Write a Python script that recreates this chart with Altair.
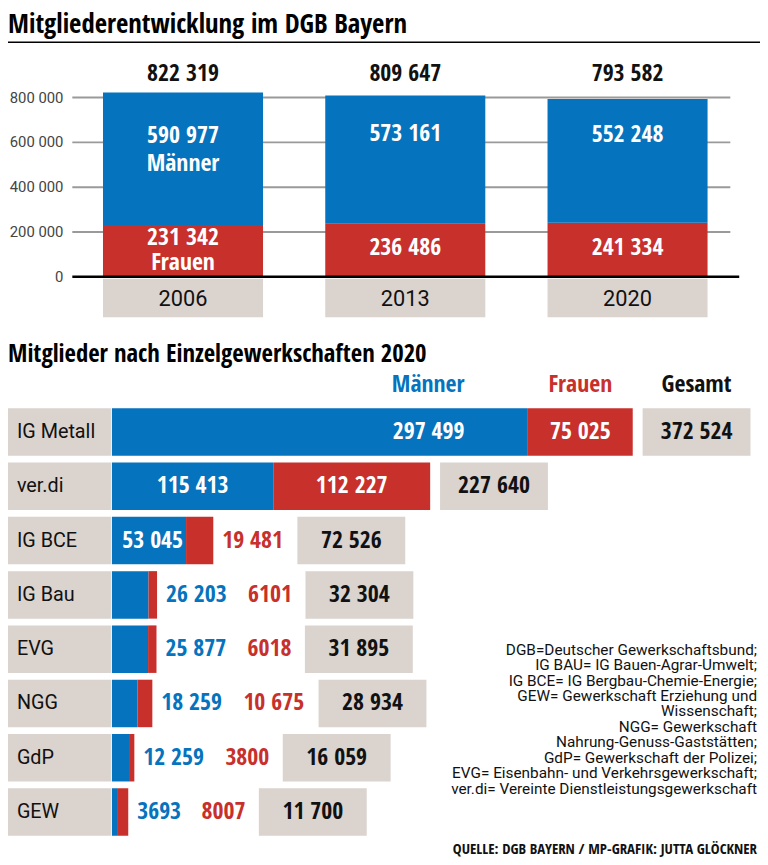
import altair as alt
import pandas as pd

# ---------------- data ----------------
years = ["2006", "2013", "2020"]
men_year = [590977, 573161, 552248]
women_year = [231342, 236486, 241334]
total_year = [822319, 809647, 793582]
y_ticks = [0, 200000, 400000, 600000, 800000]

unions = ["IG Metall", "ver.di", "IG BCE", "IG Bau", "EVG", "NGG", "GdP", "GEW"]
men_union = [297499, 115413, 53045, 26203, 25877, 18259, 12259, 3693]
women_union = [75025, 112227, 19481, 6101, 6018, 10675, 3800, 8007]
total_union = [372524, 227640, 72526, 32304, 31895, 28934, 16059, 11700]

title = "Mitgliederentwicklung im DGB Bayern"
subtitle = "Mitglieder nach Einzelgewerkschaften 2020"
header_men, header_women, header_total = "Männer", "Frauen", "Gesamt"
footnote = [
    "DGB=Deutscher Gewerkschaftsbund;",
    "IG BAU= IG Bauen-Agrar-Umwelt;",
    "IG BCE= IG Bergbau-Chemie-Energie;",
    "GEW= Gewerkschaft Erziehung und",
    "Wissenschaft;",
    "NGG= Gewerkschaft",
    "Nahrung-Genuss-Gaststätten;",
    "GdP= Gewerkschaft der Polizei;",
    "EVG= Eisenbahn- und Verkehrsgewerkschaft;",
    "ver.di= Vereinte Dienstleistungsgewerkschaft",
]
source = "QUELLE: DGB BAYERN  / MP-GRAFIK: JUTTA GLÖCKNER"

# ---------------- style ----------------
BLUE = "#0573bd"
RED = "#c8302c"
BOX = "#dad3ce"
GRID = "#9a9a9a"
FB = "Open Sans Condensed, Roboto"      # bold condensed
FR = "Roboto, Liberation Sans"          # regular
W, H = 760, 857
NUM = 24


def fmt(v):
    return str(v) if v < 10000 else f"{v:,}".replace(",", " ")


def tw(s):
    # approximate width of a bold number label (px), as laid out in the reference
    return sum(6 if c == " " else 12 for c in s)


one = lambda **kw: pd.DataFrame({k: [v] for k, v in kw.items()})

# ---------------- top chart ----------------
K_TOP = 181 / 800000
y_top = alt.Scale(domain=[0, 800000], range=[267, 86], nice=False, zero=False)
x_year = alt.Scale(type="band", domain=years, range=[96, 707], paddingInner=0.28, paddingOuter=0)

seg_rows = []
for yr, m, w in zip(years, men_year, women_year):
    seg_rows.append(dict(year=yr, start=0, end=w, col=RED))
    seg_rows.append(dict(year=yr, start=w, end=w + m, col=BLUE))
seg_top = pd.DataFrame(seg_rows)

lab_rows = []
for i, (yr, m, w) in enumerate(zip(years, men_year, women_year)):
    mid_w, mid_m = w / 2, w + m / 2
    if i == 0:
        lab_rows += [
            dict(year=yr, t=fmt(m), yu=mid_m + 23 / K_TOP),
            dict(year=yr, t="Männer", yu=mid_m - 5 / K_TOP),
            dict(year=yr, t=fmt(w), yu=mid_w + 13 / K_TOP),
            dict(year=yr, t="Frauen", yu=mid_w - 12 / K_TOP),
        ]
    else:
        lab_rows += [
            dict(year=yr, t=fmt(m), yu=mid_m + 26 / K_TOP),
            dict(year=yr, t=fmt(w), yu=mid_w + 2 / K_TOP),
        ]
lab_top = pd.DataFrame(lab_rows)

year_df = pd.DataFrame({"year": years, "tot": [fmt(v) for v in total_year]})
tick_df = pd.DataFrame({"v": y_ticks, "t": [fmt(v) for v in y_ticks]})

title_l = alt.Chart(one(t=title)).mark_text(
    font=FB, fontSize=27, fontWeight="bold", align="left", baseline="alphabetic"
).encode(x=alt.value(0), y=alt.value(21), text="t:N")

title_rule = alt.Chart(one(a=1)).mark_rule(color="#000", strokeWidth=1.5).encode(
    x=alt.value(0), x2=alt.value(W), y=alt.value(30)
)

grid = alt.Chart(tick_df[tick_df.v > 0]).mark_rule(color=GRID, strokeWidth=2).encode(
    x=alt.value(65), x2=alt.value(730), y=alt.Y("v:Q", scale=y_top, axis=None)
)

tick_lab = alt.Chart(tick_df).mark_text(
    font=FR, fontSize=15, color="#444", align="right", baseline="middle"
).encode(x=alt.value(56), y=alt.Y("v:Q", scale=y_top, axis=None), text="t:N")

bars_top = alt.Chart(seg_top).mark_bar().encode(
    x=alt.X("year:N", scale=x_year, axis=None),
    y=alt.Y("start:Q", scale=y_top, axis=None),
    y2="end:Q",
    color=alt.Color("col:N", scale=None),
)

base_rule = alt.Chart(tick_df[tick_df.v == 0]).mark_rule(color="#000", strokeWidth=2.5).encode(
    x=alt.value(65), x2=alt.value(739), y=alt.Y("v:Q", scale=y_top, axis=None)
)

year_box = alt.Chart(year_df).mark_bar(color=BOX).encode(
    x=alt.X("year:N", scale=x_year, axis=None), y=alt.value(269), y2=alt.value(308)
)
year_txt = alt.Chart(year_df).mark_text(
    font=FR, fontSize=22, color="#111", baseline="middle"
).encode(x=alt.X("year:N", scale=x_year, axis=None), y=alt.value(290), text="year:N")

tot_txt = alt.Chart(year_df).mark_text(
    font=FB, fontSize=NUM, fontWeight="bold", color="#111", baseline="middle"
).encode(x=alt.X("year:N", scale=x_year, axis=None), y=alt.value(62), text="tot:N")

inner_top = alt.Chart(lab_top).mark_text(
    font=FB, fontSize=NUM, fontWeight="bold", color="white", baseline="middle"
).encode(
    x=alt.X("year:N", scale=x_year, axis=None),
    y=alt.Y("yu:Q", scale=y_top, axis=None),
    text="t:N",
)

# ---------------- bottom chart ----------------
X0, X1 = 105, 670.2
K = (X1 - X0) / 400000
x_u = alt.Scale(domain=[0, 400000], range=[X0, X1], nice=False, zero=False)
y_u = alt.Scale(type="band", domain=unions, range=[400, 832], paddingInner=0.125, paddingOuter=0)


def u(px):
    return px / K


seg_rows, lab_rows, box_rows = [], [], []
for un, m, w, t in zip(unions, men_union, women_union, total_union):
    seg_rows.append(dict(union=un, start=0, end=m, col=BLUE))
    seg_rows.append(dict(union=un, start=m, end=m + w, col=RED))
    sm, sw = fmt(m), fmt(w)
    if un == "IG Metall":
        lab_rows.append(dict(union=un, t=sm, xu=m - u(64), al="right", col="white"))
        lab_rows.append(dict(union=un, t=sw, xu=m + w / 2, al="center", col="white"))
        bs = t + u(10)
    elif un == "ver.di":
        lab_rows.append(dict(union=un, t=sm, xu=m / 2, al="center", col="white"))
        lab_rows.append(dict(union=un, t=sw, xu=m + w / 2, al="center", col="white"))
        bs = t + u(10)
    elif un == "IG BCE":
        lab_rows.append(dict(union=un, t=sm, xu=m - u(3), al="right", col="white"))
        rs = t + u(9)
        lab_rows.append(dict(union=un, t=sw, xu=rs, al="left", col=RED))
        bs = rs + u(tw(sw) + 10)
    else:
        bls = t + u(9)
        lab_rows.append(dict(union=un, t=sm, xu=bls, al="left", col=BLUE))
        rs = bls + u(tw(sm) + 17)
        lab_rows.append(dict(union=un, t=sw, xu=rs, al="left", col=RED))
        bs = rs + u(tw(sw) + 10)
    box_rows.append(dict(union=un, b0=bs, b1=bs + u(109), bc=bs + u(54.5), t=fmt(t)))

seg_b = pd.DataFrame(seg_rows)
lab_b = pd.DataFrame(lab_rows)
box_b = pd.DataFrame(box_rows)
union_df = pd.DataFrame({"union": unions})

ig = lab_b[lab_b.union == unions[0]].reset_index(drop=True)
head_r = pd.DataFrame({"t": [header_men], "xu": [ig.xu[0]], "col": [BLUE]})
head_c = pd.DataFrame(
    {"t": [header_women, header_total], "xu": [ig.xu[1], box_b.bc[0]], "col": [RED, "#111"]}
)

subtitle_l = alt.Chart(one(t=subtitle)).mark_text(
    font=FB, fontSize=25, fontWeight="bold", align="left", baseline="middle"
).encode(x=alt.value(0), y=alt.value(345), text="t:N")

heads = []
for df, al in [(head_r, "right"), (head_c, "center")]:
    heads.append(
        alt.Chart(df).mark_text(font=FB, fontSize=NUM, fontWeight="bold", align=al, baseline="middle").encode(
            x=alt.X("xu:Q", scale=x_u, axis=None),
            y=alt.value(377),
            text="t:N",
            color=alt.Color("col:N", scale=None),
        )
    )

name_box = alt.Chart(union_df).mark_bar(color=BOX).encode(
    x=alt.value(0), x2=alt.value(104), y=alt.Y("union:N", scale=y_u, axis=None)
)
name_txt = alt.Chart(union_df).mark_text(
    font=FR, fontSize=20, color="#111", align="left", baseline="middle"
).encode(x=alt.value(9), y=alt.Y("union:N", scale=y_u, axis=None), text="union:N")

bars_b = alt.Chart(seg_b).mark_bar().encode(
    x=alt.X("start:Q", scale=x_u, axis=None),
    x2="end:Q",
    y=alt.Y("union:N", scale=y_u, axis=None),
    color=alt.Color("col:N", scale=None),
)

labs = []
for al in ["left", "center", "right"]:
    d = lab_b[lab_b.al == al]
    labs.append(
        alt.Chart(d).mark_text(font=FB, fontSize=NUM, fontWeight="bold", align=al, baseline="middle").encode(
            x=alt.X("xu:Q", scale=x_u, axis=None),
            y=alt.Y("union:N", scale=y_u, axis=None),
            text="t:N",
            color=alt.Color("col:N", scale=None),
        )
    )

tot_box = alt.Chart(box_b).mark_bar(color=BOX).encode(
    x=alt.X("b0:Q", scale=x_u, axis=None), x2="b1:Q", y=alt.Y("union:N", scale=y_u, axis=None)
)
tot_b_txt = alt.Chart(box_b).mark_text(
    font=FB, fontSize=NUM, fontWeight="bold", color="#111", align="center", baseline="middle"
).encode(x=alt.X("bc:Q", scale=x_u, axis=None), y=alt.Y("union:N", scale=y_u, axis=None), text="t:N")

foot = alt.Chart(one(a=1)).mark_text(
    font=FR, fontSize=15.5, color="#111", align="right", baseline="alphabetic", lineHeight=15.6
).encode(x=alt.value(757), y=alt.value(649), text=alt.value(footnote))

src = alt.Chart(one(t=source)).mark_text(
    font=FB, fontSize=15, fontWeight="bold", color="#111", align="right", baseline="middle"
).encode(x=alt.value(757), y=alt.value(845), text="t:N")

chart = (
    alt.layer(
        title_l, title_rule,
        grid, tick_lab, bars_top, base_rule, year_box, year_txt, tot_txt, inner_top,
        subtitle_l, *heads, name_box, name_txt, bars_b, *labs, tot_box, tot_b_txt,
        foot, src,
    )
    .resolve_scale(x="independent", y="independent", color="independent")
    .properties(width=W, height=H, autosize=alt.AutoSizeParams(type="none"), padding=0)
    .configure_view(stroke=None)
)

chart.save("out.html", embed_options={"renderer": "svg", "actions": False})
